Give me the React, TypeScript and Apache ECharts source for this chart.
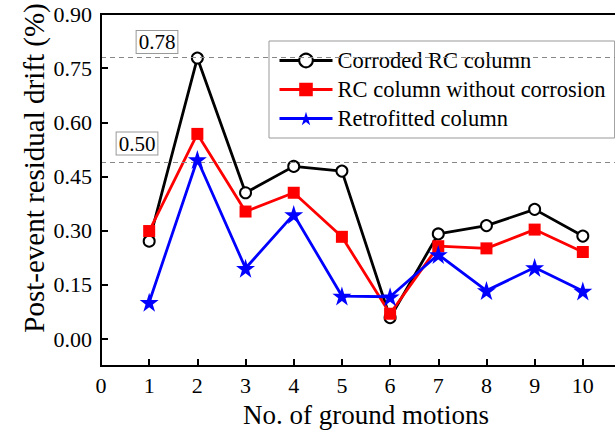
import React, { useEffect, useRef } from "react";
import * as echarts from "echarts";

const motions = [1, 2, 3, 4, 5, 6, 7, 8, 9, 10];
const corroded = [0.271, 0.778, 0.405, 0.478, 0.465, 0.059, 0.291, 0.314, 0.359, 0.285];
const noCorrosion = [0.299, 0.568, 0.353, 0.405, 0.283, 0.07, 0.257, 0.251, 0.303, 0.241];
const retrofitted = [0.102, 0.497, 0.196, 0.345, 0.119, 0.117, 0.234, 0.134, 0.198, 0.133];
const yTicks = [0, 0.15, 0.3, 0.45, 0.6, 0.75, 0.9];
const refValues = [0.778, 0.495];
const refLabels = ["0.78", "0.50"];
const seriesNames = ["Corroded RC column", "RC column without corrosion", "Retrofitted column"];

const FONT = "Times New Roman, serif";
const STAR = "path://M50,0 L61.2,34.5 L97.6,34.5 L68.2,55.9 L79.4,90.5 L50,69.1 L20.6,90.5 L31.8,55.9 L2.4,34.5 L38.8,34.5 Z";

export default function App() {
  const ref = useRef<HTMLDivElement>(null);
  useEffect(() => {
    if (!ref.current) return;
    const chart = echarts.init(ref.current, null, { renderer: "svg" });
    const pair = (arr: number[]) => motions.map((m, i) => [m, arr[i]]);
    chart.setOption({
      animation: false,
      backgroundColor: "#fff",
      textStyle: { fontFamily: FONT },
      grid: {
        left: 101,
        top: 14,
        right: 9,
        bottom: 66,
        show: true,
        backgroundColor: "transparent",
        borderColor: "#000",
        borderWidth: 2,
        z: -1,
      },
      legend: {
        orient: "vertical",
        left: 269,
        top: 41,
        padding: [8, 9, 8, 9],
        itemGap: 6,
        itemWidth: 53,
        itemHeight: 17,
        backgroundColor: "#fff",
        borderColor: "#999",
        borderWidth: 1,
        borderRadius: 0,
        lineStyle: { width: 3 },
        textStyle: { fontFamily: FONT, fontSize: 22.5, color: "#000" },
        data: seriesNames,
      },
      xAxis: {
        type: "value",
        min: 0,
        max: 11,
        interval: 1,
        z: 10,
        name: "No. of ground motions",
        nameLocation: "middle",
        nameGap: 30,
        nameTextStyle: { fontFamily: FONT, fontSize: 27, color: "#000" },
        axisLine: { show: true, onZero: false, lineStyle: { color: "#000", width: 2 } },
        axisTick: { show: true, inside: true, length: 7, lineStyle: { color: "#000", width: 2 } },
        axisLabel: {
          fontFamily: FONT,
          fontSize: 22,
          color: "#000",
          margin: 8,
          formatter: (v: number) => (v > 10 ? "" : String(v)),
        },
        splitLine: { show: false },
      },
      yAxis: {
        type: "value",
        min: -0.075,
        max: 0.9,
        z: 10,
        axisLine: { show: true, onZero: false, lineStyle: { color: "#000", width: 2 } },
        axisTick: {
          show: true,
          inside: true,
          length: 7,
          lineStyle: { color: "#000", width: 2 },
          customValues: yTicks,
        },
        axisLabel: {
          fontFamily: FONT,
          fontSize: 22,
          color: "#000",
          margin: 9,
          customValues: yTicks,
          formatter: (v: number) => v.toFixed(2),
        },
        splitLine: { show: false },
      },
      graphic: [
        {
          type: "text",
          x: 34,
          y: 168,
          rotation: Math.PI / 2,
          style: {
            text: "Post-event residual drift (%)",
            fontFamily: FONT,
            fontSize: 29,
            fill: "#000",
            align: "center",
            verticalAlign: "middle",
          },
        },
        {
          type: "text",
          x: 157,
          y: 42,
          style: {
            text: refLabels[0],
            fontFamily: FONT,
            fontSize: 21,
            fill: "#000",
            align: "center",
            verticalAlign: "middle",
            backgroundColor: "#fff",
            borderColor: "#999",
            borderWidth: 1,
            padding: [1, 2, 0, 2],
          },
        },
        {
          type: "text",
          x: 137,
          y: 143.5,
          style: {
            text: refLabels[1],
            fontFamily: FONT,
            fontSize: 21,
            fill: "#000",
            align: "center",
            verticalAlign: "middle",
            backgroundColor: "#fff",
            borderColor: "#999",
            borderWidth: 1,
            padding: [1, 2, 0, 2],
          },
        },
      ],
      series: [
        {
          name: seriesNames[0],
          type: "line",
          data: pair(corroded),
          symbol: "circle",
          symbolSize: 11,
          z: 3,
          lineStyle: { color: "#000", width: 2.8 },
          itemStyle: { color: "#fff", borderColor: "#000", borderWidth: 2 },
          markLine: {
            silent: true,
            symbol: "none",
            label: { show: false },
            lineStyle: { color: "#888", type: [5, 4], width: 1 },
            data: refValues.map((v) => ({ yAxis: v })),
          },
        },
        {
          name: seriesNames[1],
          type: "line",
          data: pair(noCorrosion),
          symbol: "rect",
          symbolSize: 12,
          z: 4,
          lineStyle: { color: "#ff0000", width: 2.8 },
          itemStyle: { color: "#ff0000" },
        },
        {
          name: seriesNames[2],
          type: "line",
          data: pair(retrofitted),
          symbol: STAR,
          symbolSize: 19,
          z: 5,
          lineStyle: { color: "#0000ff", width: 2.8 },
          itemStyle: { color: "#0000ff" },
        },
      ],
    });
    return () => chart.dispose();
  }, []);
  return (
    <div
      ref={ref}
      style={{ position: "fixed", left: 0, top: 0, width: 640, height: 433, background: "#fff" }}
    />
  );
}
